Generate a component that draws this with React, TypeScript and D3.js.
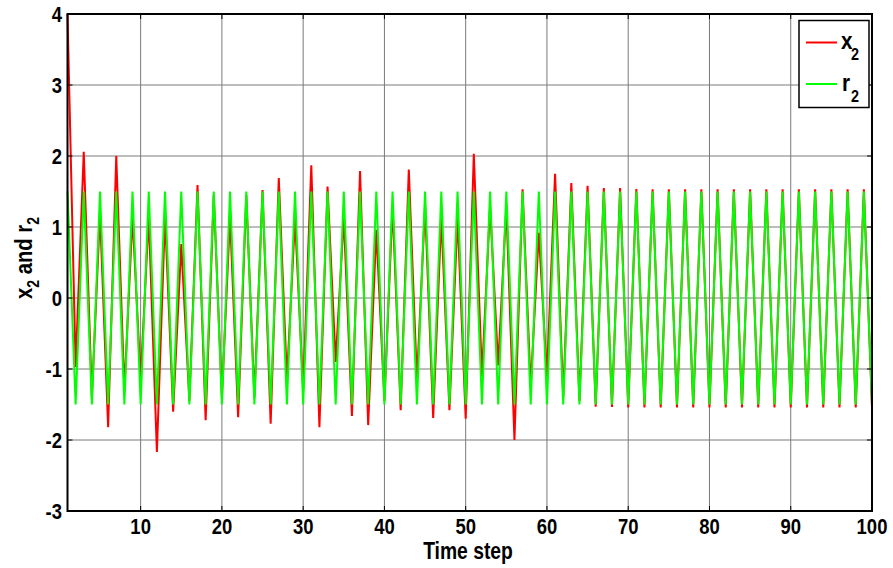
import React from "react";
import * as d3 from "d3";

const steps: number[] = Array.from({ length: 100 }, (_, i) => i + 1);

const x2Values: number[] = [
  4.0, -0.97, 2.06, -1.4, 1.2, -1.82, 2.0, -1.3, 1.15, -1.15,
  1.15, -2.17, 1.15, -1.6, 0.76, -1.45, 1.59, -1.72, 1.45, -1.4,
  1.15, -1.68, 1.45, -1.4, 1.52, -1.77, 1.69, -1.15, 1.12, -1.3,
  1.87, -1.82, 1.57, -0.9, 1.14, -1.66, 1.79, -1.79, 0.96, -1.45,
  1.3, -1.58, 1.81, -1.16, 1.3, -1.69, 1.14, -1.58, 1.14, -1.7,
  2.03, -1.1, 1.3, -0.95, 1.3, -2.0, 1.53, -1.25, 0.92, -1.1,
  1.75, -1.4, 1.62, -1.45, 1.58, -1.53, 1.55, -1.535, 1.55, -1.54,
  1.535, -1.54, 1.53, -1.54, 1.53, -1.54, 1.53, -1.54, 1.53, -1.54,
  1.53, -1.54, 1.53, -1.54, 1.53, -1.54, 1.53, -1.54, 1.53, -1.54,
  1.53, -1.54, 1.53, -1.54, 1.53, -1.54, 1.53, -1.54, 1.53, -1.54,
];

const r2Values: number[] = [
  1.5, -1.5, 1.5, -1.5, 1.5, -1.5, 1.5, -1.5, 1.5, -1.5,
  1.5, -1.5, 1.5, -1.5, 1.5, -1.5, 1.5, -1.5, 1.5, -1.5,
  1.5, -1.5, 1.5, -1.5, 1.5, -1.5, 1.5, -1.5, 1.5, -1.5,
  1.5, -1.5, 1.5, -1.5, 1.5, -1.5, 1.5, -1.5, 1.5, -1.5,
  1.5, -1.5, 1.5, -1.5, 1.5, -1.5, 1.5, -1.5, 1.5, -1.5,
  1.5, -1.5, 1.5, -1.5, 1.5, -1.5, 1.5, -1.5, 1.5, -1.5,
  1.5, -1.5, 1.5, -1.5, 1.5, -1.5, 1.5, -1.5, 1.5, -1.5,
  1.5, -1.5, 1.5, -1.5, 1.5, -1.5, 1.5, -1.5, 1.5, -1.5,
  1.5, -1.5, 1.5, -1.5, 1.5, -1.5, 1.5, -1.5, 1.5, -1.5,
  1.5, -1.5, 1.5, -1.5, 1.5, -1.5, 1.5, -1.5, 1.5, -1.5,
];

const xTicks: number[] = [10, 20, 30, 40, 50, 60, 70, 80, 90, 100];
const yTicks: number[] = [-3, -2, -1, 0, 1, 2, 3, 4];

const W = 893;
const H = 568;
const L = 67.5;
const R = 872;
const T = 14;
const B = 511;

const FONT = "'Liberation Sans', Arial, sans-serif";

export default function App() {
  const x = d3.scaleLinear().domain([1, 100]).range([L, R]);
  const y = d3.scaleLinear().domain([-3, 4]).range([B, T]);

  const line = d3
    .line<number>()
    .x((_, i) => x(steps[i]))
    .y((d) => y(d));

  const tickLen = 5;

  return (
    <svg
      width={W}
      height={H}
      style={{ position: "absolute", left: 0, top: 0, background: "#fff" }}
      fontFamily={FONT}
    >
      <rect x={0} y={0} width={W} height={H} fill="#fff" />
      {/* grid */}
      <g stroke="#7a7a7a" strokeWidth={1}>
        {xTicks.map((t) => (
          <line key={"gx" + t} x1={x(t)} x2={x(t)} y1={T} y2={B} />
        ))}
        {yTicks.map((t) => (
          <line key={"gy" + t} x1={L} x2={R} y1={y(t)} y2={y(t)} />
        ))}
      </g>
      {/* data */}
      <path d={line(x2Values) || ""} fill="none" stroke="#ff0000" strokeWidth={2} strokeLinejoin="miter" />
      <path d={line(r2Values) || ""} fill="none" stroke="#00ff00" strokeWidth={2} strokeLinejoin="miter" />
      {/* ticks */}
      <g stroke="#000" strokeWidth={1}>
        {xTicks.map((t) => (
          <g key={"tx" + t}>
            <line x1={x(t)} x2={x(t)} y1={B} y2={B - tickLen} />
            <line x1={x(t)} x2={x(t)} y1={T} y2={T + tickLen} />
          </g>
        ))}
        {yTicks.map((t) => (
          <g key={"ty" + t}>
            <line x1={L} x2={L + tickLen} y1={y(t)} y2={y(t)} />
            <line x1={R} x2={R - tickLen} y1={y(t)} y2={y(t)} />
          </g>
        ))}
      </g>
      {/* box */}
      <rect x={L} y={T} width={R - L} height={B - T} fill="none" stroke="#000" strokeWidth={2} />
      {/* tick labels */}
      <g fontWeight="bold" fontSize={22} fill="#000">
        {xTicks.map((t) => (
          <text
            key={"lx" + t}
            transform={`translate(${x(t)},${534}) scale(0.84,1)`}
            textAnchor="middle"
          >
            {t}
          </text>
        ))}
        {yTicks.map((t) => (
          <text
            key={"ly" + t}
            transform={`translate(${62},${y(t) + 8}) scale(0.84,1)`}
            textAnchor="end"
          >
            {t}
          </text>
        ))}
      </g>
      {/* x label */}
      <text
        transform={`translate(${468},${559}) scale(0.84,1)`}
        textAnchor="middle"
        fontWeight="bold"
        fontSize={23}
      >
        Time step
      </text>
      {/* y label */}
      <text
        transform={`translate(${32},${258}) rotate(-90) scale(0.88,1)`}
        textAnchor="middle"
        fontWeight="bold"
        fontSize={23}
      >
        <tspan>x</tspan>
        <tspan fontSize={16} dy={7}>2</tspan>
        <tspan dy={-7}> and r</tspan>
        <tspan fontSize={16} dy={7}>2</tspan>
      </text>
      {/* legend */}
      <rect x={799} y={20.5} width={70} height={87} fill="#fff" stroke="#000" strokeWidth={1.5} />
      <line x1={806} x2={837} y1={42.5} y2={42.5} stroke="#ff0000" strokeWidth={2} />
      <line x1={806} x2={837} y1={84} y2={84} stroke="#00ff00" strokeWidth={2} />
      <g fontWeight="bold" fill="#000">
        <text transform={`translate(841,48.5) scale(0.9,1)`} fontSize={23}>
          x
        </text>
        <text transform={`translate(851,60) scale(0.9,1)`} fontSize={16}>
          2
        </text>
        <text transform={`translate(842,90.5) scale(0.9,1)`} fontSize={23}>
          r
        </text>
        <text transform={`translate(851,101.5) scale(0.9,1)`} fontSize={16}>
          2
        </text>
      </g>
    </svg>
  );
}
